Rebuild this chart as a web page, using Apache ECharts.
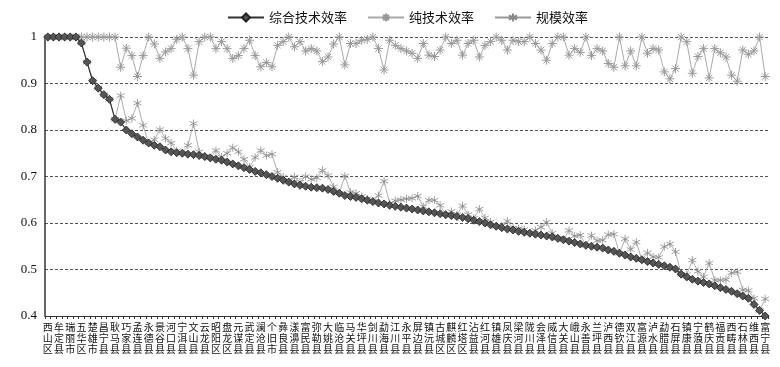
<!DOCTYPE html>
<html><head><meta charset="utf-8">
<script src="https://cdn.jsdelivr.net/npm/echarts@6/dist/echarts.min.js"></script>
<style>html,body{margin:0;padding:0;background:#fff}#c{width:780px;height:367px}</style>
</head><body><div id="c"></div>
<script>
// County labels shown on the axis (every other category)
const labels = ['西山区','牟定县','瑞丽市','五华区','楚雄市','昌宁县','耿马县','巧家县','孟连县','永德县','景谷县','河口县','宁洱县','文山县','云龙县','昭阳区','盘龙区','元谋县','武定县',
'澜沧县','个旧市','彝良县','漾濞县','富民县','弥勒县','大姚县','临沧县','马关县','华坪县','剑川县','勐海县','江川县','永平县','屏边县','镇沅县','古城区','麒麟区','红塔区','沾益县','红河县','镇雄县','凤庆县',
'梁河县','陇川县','会泽县','威信县','大关县','峨山县','永善县','兰坪县','泸西县','德钦县','双江县','富源县','泸水县','勐腊县','石屏县','镇康县','宁蒗县','鹤庆县','福贡县','西畴县','石林县','维西县','富宁县'];

const seriesNames = ['综合技术效率','纯技术效率','规模效率'];

const overall = [1,1,1,1,1,1,0.987,0.946,0.906,0.89,0.876,0.866,0.823,0.817,0.800,0.792,0.785,0.778,0.772,0.767,
0.764,0.757,0.753,0.751,0.750,0.748,0.747,0.745,0.743,0.740,0.737,0.735,0.731,0.727,0.723,0.719,0.715,0.711,0.708,0.704,
0.700,0.696,0.692,0.688,0.684,0.681,0.679,0.677,0.676,0.675,0.672,0.668,0.664,0.659,0.657,0.655,0.652,0.649,0.646,0.643,
0.641,0.638,0.636,0.634,0.632,0.630,0.628,0.626,0.624,0.622,0.620,0.618,0.616,0.614,0.612,0.609,0.606,0.603,0.600,0.596,
0.593,0.590,0.587,0.585,0.582,0.580,0.578,0.576,0.574,0.572,0.570,0.567,0.564,0.561,0.558,0.555,0.552,0.550,0.548,0.546,
0.542,0.539,0.535,0.531,0.527,0.524,0.521,0.517,0.514,0.511,0.508,0.505,0.501,0.490,0.484,0.479,0.475,0.472,0.469,0.465,
0.461,0.457,0.453,0.448,0.443,0.438,0.425,0.412,0.400];

const pure = [1,1,1,1,1,1,1,1,1,1,1,1,1,0.935,0.976,0.96,0.915,0.96,1,0.985,
0.954,0.968,0.975,0.995,1,0.975,0.918,0.99,1,1,0.975,0.99,0.975,0.954,0.96,0.975,0.993,0.96,0.936,0.945,
0.936,0.982,0.99,1,0.979,0.99,0.97,0.975,0.97,0.947,0.957,0.985,1,0.94,0.986,0.986,0.993,0.995,1,0.975,
0.929,0.993,0.982,0.975,0.97,0.965,0.954,0.986,0.961,0.958,0.972,1,0.986,0.993,0.961,0.986,0.993,0.957,0.982,0.99,
1,0.993,0.972,0.993,0.99,0.99,1,0.986,0.972,0.95,0.986,1,1,0.961,0.975,0.967,1,0.96,0.975,0.97,
0.943,0.935,1,0.938,0.97,0.938,1,0.965,0.975,0.972,0.925,0.91,0.932,1,0.99,0.922,0.958,0.975,0.912,0.975,
0.966,0.957,0.918,0.905,0.972,0.963,0.97,1,0.915];

const scale = [1,1,1,1,1,1,0.987,0.946,0.906,0.89,0.876,0.866,0.823,0.874,0.820,0.825,0.858,0.810,0.772,0.779,
0.801,0.782,0.772,0.755,0.750,0.767,0.814,0.753,0.743,0.740,0.756,0.742,0.750,0.762,0.753,0.737,0.720,0.741,0.756,0.745,
0.748,0.709,0.699,0.688,0.699,0.688,0.700,0.694,0.697,0.713,0.702,0.678,0.664,0.701,0.666,0.664,0.657,0.652,0.646,0.659,
0.690,0.642,0.648,0.650,0.652,0.653,0.658,0.635,0.649,0.649,0.638,0.618,0.625,0.618,0.637,0.618,0.610,0.630,0.611,0.602,
0.593,0.594,0.604,0.589,0.588,0.586,0.578,0.584,0.591,0.602,0.578,0.567,0.564,0.584,0.572,0.574,0.552,0.573,0.562,0.563,
0.575,0.576,0.535,0.566,0.543,0.559,0.521,0.536,0.527,0.526,0.549,0.555,0.538,0.490,0.489,0.520,0.496,0.484,0.514,0.477,
0.477,0.478,0.493,0.495,0.456,0.455,0.438,0.412,0.437];

const yTicks = [0.4,0.5,0.6,0.7,0.8,0.9,1];

const categories = overall.map((_, i) => (i % 2 === 0 ? (labels[i / 2] || '') : ''));

const star8 = 'path://M5,0L5,10M0,5L10,5M1.5,1.5L8.5,8.5M8.5,1.5L1.5,8.5';
const star6 = 'path://M5,0L5,10M0.7,2.5L9.3,7.5M9.3,2.5L0.7,7.5';

const chart = echarts.init(document.getElementById('c'), null, {renderer: 'canvas'});
chart.setOption({
  animation: false,
  backgroundColor: '#fff',
  legend: {
    left: 222, top: 6,
    itemWidth: 36, itemHeight: 10, itemGap: 20,
    textStyle: {fontFamily: '"Noto Sans CJK SC"', fontSize: 13, color: '#111'},
    data: seriesNames
  },
  grid: {left: 45, right: 12, top: 37, bottom: 51, containLabel: false},
  xAxis: {
    type: 'category',
    data: categories,
    boundaryGap: true,
    axisLine: {lineStyle: {color: '#333', width: 1}},
    axisTick: {show: true, interval: 0, length: 3, lineStyle: {color: '#333'}},
    axisLabel: {
      interval: 1, margin: 6,
      fontFamily: '"Noto Sans CJK SC"', fontSize: 10, lineHeight: 11, color: '#111',
      formatter: v => v.split('').join('\n')
    },
    splitLine: {show: false}
  },
  yAxis: {
    type: 'value',
    min: yTicks[0], max: yTicks[yTicks.length - 1], interval: 0.1,
    axisLine: {show: true, lineStyle: {color: '#333', width: 1.5}},
    axisTick: {show: false},
    axisLabel: {
      margin: 8, fontFamily: '"Liberation Serif"', fontSize: 13, color: '#111',
      formatter: v => (Math.abs(v - 1) < 1e-9 ? '1' : v.toFixed(1))
    },
    splitLine: {show: true, lineStyle: {color: '#555', type: [3, 2], width: 1}}
  },
  series: [
    {
      name: seriesNames[0], type: 'line', data: overall, z: 5,
      symbol: 'diamond', symbolSize: 8, showAllSymbol: true,
      lineStyle: {color: '#333', width: 1.2},
      itemStyle: {color: '#555', borderColor: '#222', borderWidth: 0.8}
    },
    {
      name: seriesNames[1], type: 'line', data: pure, z: 3,
      symbol: star8, symbolSize: 9, showAllSymbol: true,
      lineStyle: {color: '#aaa', width: 1},
      itemStyle: {color: 'rgba(0,0,0,0)', borderColor: '#999', borderWidth: 1}
    },
    {
      name: seriesNames[2], type: 'line', data: scale, z: 4,
      symbol: star6, symbolSize: 8, showAllSymbol: true,
      lineStyle: {color: '#999', width: 0.8},
      itemStyle: {color: 'rgba(0,0,0,0)', borderColor: '#888', borderWidth: 0.8}
    }
  ]
});
</script></body></html>
